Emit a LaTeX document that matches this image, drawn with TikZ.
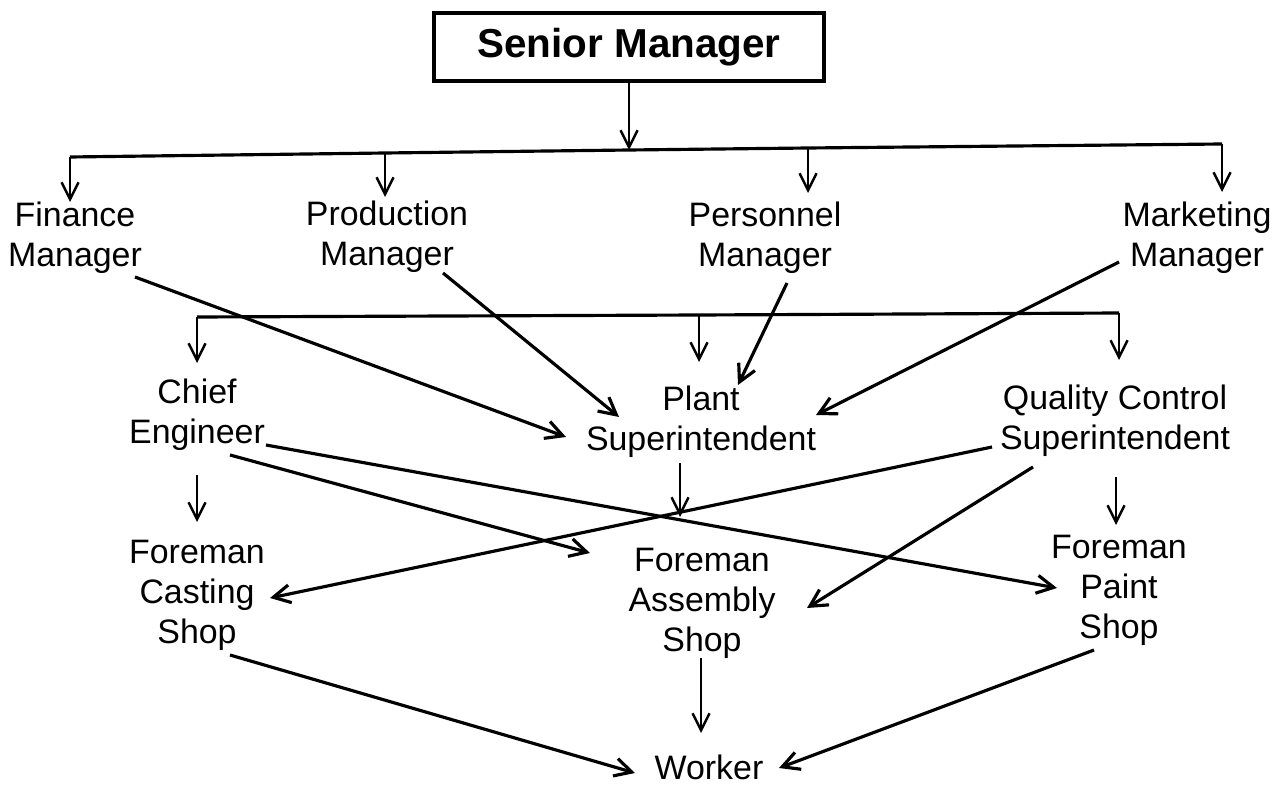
\documentclass[tikz,border=0pt]{standalone}
\usepackage{fontspec}
\setmainfont{Liberation Sans}
\usetikzlibrary{arrows.meta,calc}
\begin{document}
\begin{tikzpicture}[x=0.02cm,y=-0.02cm,
  lbl/.style={align=center,font=\fontsize{19.3}{22.8}\selectfont,inner sep=0pt},
  topbox/.style={draw,line width=2pt,minimum width=7.8cm,minimum height=1.36cm,inner sep=0pt,font=\fontsize{23}{26}\selectfont\bfseries},
  bus/.style={line width=1.8pt},
  arr/.style={-{Straight Barb[length=0.34cm,width=0.36cm]},line width=1.8pt},
  drop/.style={-{Straight Barb[length=0.34cm,width=0.34cm]},line width=1.4pt}]
\useasboundingbox (0,0) rectangle (1284,787);
% nodes
\node[topbox] (sm) at (629,47) {Senior Manager};
\node[lbl] (fin) at (75,238) {Finance\\Manager};
\node[lbl] (prod) at (387,237) {Production\\Manager};
\node[lbl] (pers) at (765,238) {Personnel\\Manager};
\node[lbl] (mkt) at (1197,238) {Marketing\\Manager};
\node[lbl] (chief) at (197,415) {Chief\\Engineer};
\node[lbl] (plant) at (701,422) {Plant\\Superintendent};
\node[lbl] (qc) at (1115,421) {Quality Control\\Superintendent};
\node[lbl] (fcast) at (197,595) {Foreman\\Casting\\Shop};
\node[lbl] (fasm) at (702,603) {Foreman\\Assembly\\Shop};
\node[lbl] (fpaint) at (1119,590) {Foreman\\Paint\\Shop};
\node[lbl] (worker) at (709,767) {Worker};
% first bus
\coordinate (b1a) at (70,157);
\coordinate (b1b) at (385,153);
\coordinate (b1m) at (629,150);
\coordinate (b1c) at (808,148);
\coordinate (b1d) at (1222,144);
\draw[bus] (b1a) -- (b1b) -- (b1m) -- (b1c) -- (b1d);
\draw[drop] (sm.south) -- (b1m);
\draw[drop] (b1a) -- ($(fin)+(-5,-36)$);
\draw[drop] (b1b) -- ($(prod)+(-2,-40)$);
\draw[drop] (b1c) -- ($(pers)+(43,-45)$);
\draw[drop] (b1d) -- ($(mkt)+(25,-46)$);
% second bus
\coordinate (b2a) at (197,317);
\coordinate (b2b) at (699,315);
\coordinate (b2c) at (1119,313);
\draw[bus] (b2a) -- (b2b) -- (b2c);
\draw[drop] (b2a) -- ($(chief)+(0,-52)$);
\draw[drop] (b2b) -- ($(plant)+(-2,-60)$);
\draw[drop] (b2c) -- ($(qc)+(4,-61)$);
% managers to plant superintendent
\draw[arr] ($(fin)+(60,39)$) -- ($(plant)+(-135,15)$);
\draw[arr] ($(prod)+(56,36)$) -- ($(plant)+(-82,-5)$);
\draw[arr] ($(pers)+(22,45)$) -- ($(plant)+(37,-37)$);
\draw[arr] ($(mkt)+(-78,24)$) -- ($(plant)+(115,-7)$);
% vertical arrows to foremen
\draw[drop] ($(chief)+(0,60)$) -- ($(fcast)+(0,-73)$);
\draw[drop] ($(plant)+(-21,41)$) -- ($(fasm)+(-22,-86)$);
\draw[drop] ($(qc)+(1,56)$) -- ($(fpaint)+(-3,-65)$);
% crossing arrows
\draw[arr] ($(chief)+(69,30)$) -- ($(fpaint)+(-62,-2)$);
\draw[arr] ($(chief)+(33,40)$) -- ($(fasm)+(-112,-50)$);
\draw[arr] ($(qc)+(-123,26)$) -- ($(fcast)+(73,3)$);
\draw[arr] ($(qc)+(-82,46)$) -- ($(fasm)+(105,5)$);
% foremen to worker
\draw[arr] ($(fcast)+(33,60)$) -- ($(worker)+(-74,6)$);
\draw[drop] ($(fasm)+(-1,55)$) -- ($(worker)+(-8,-34)$);
\draw[arr] ($(fpaint)+(-25,60)$) -- ($(worker)+(70,1)$);
\end{tikzpicture}
\end{document}
